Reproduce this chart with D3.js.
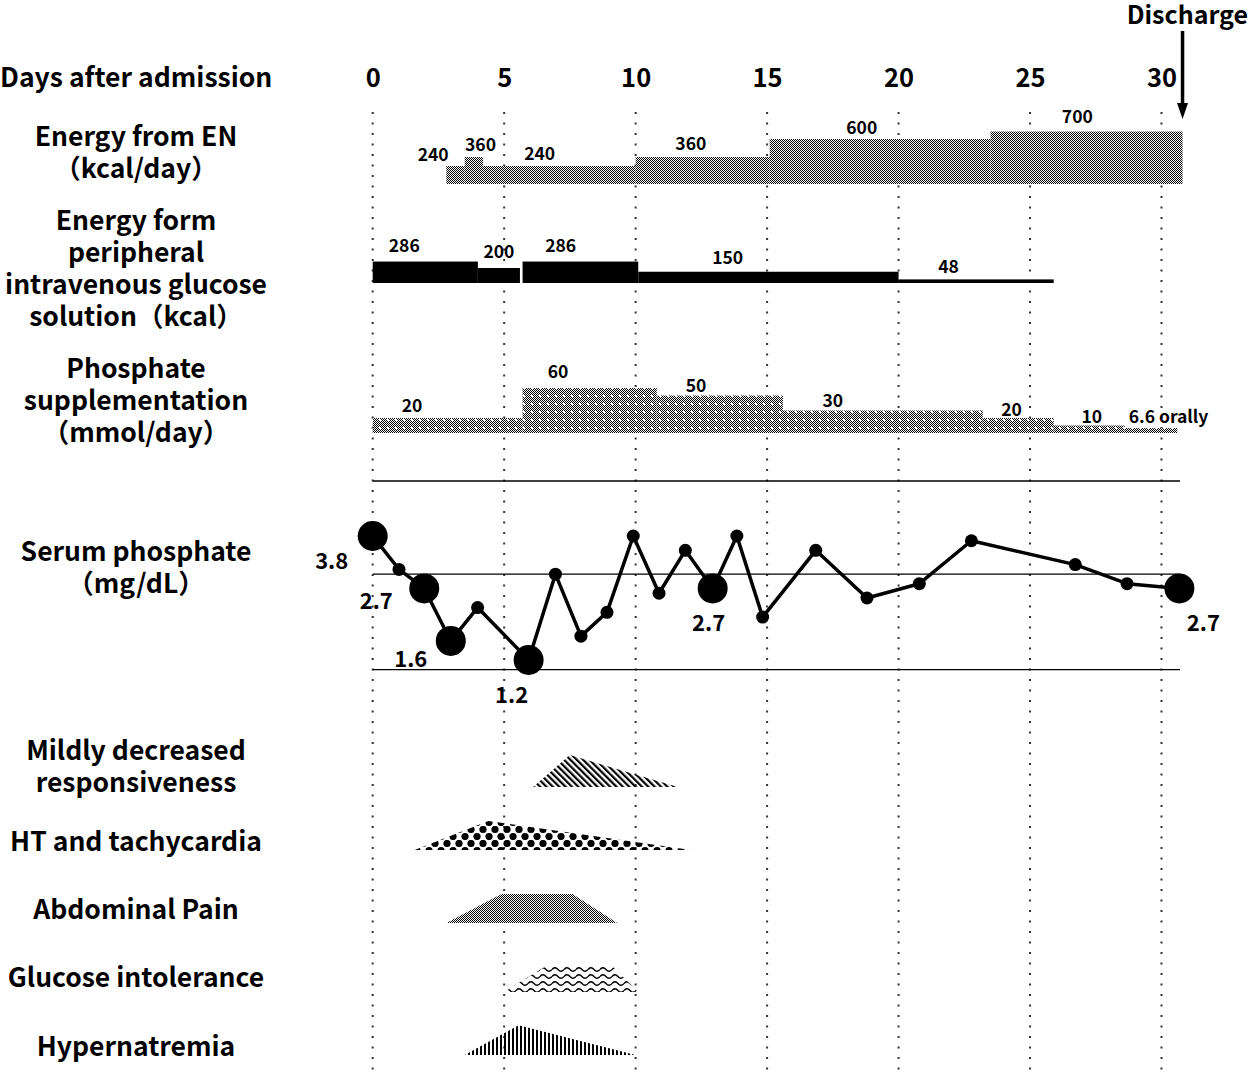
<!DOCTYPE html>
<html>
<head>
<meta charset="utf-8">
<script src="https://cdn.jsdelivr.net/npm/d3@7"></script>
<style>
  body { margin: 0; background: #fff; }
  svg { display: block; }
</style>
</head>
<body>
<div id="chart"></div>
<script>
// ---- data ----
const dayTicks = [0, 5, 10, 15, 20, 25, 30];
const dischargeDay = 30.8;

// energy from enteral nutrition (kcal/day)
const enStart = [2.8, 3.5, 4.2, 10, 15.1, 23.5];
const enEnd   = [3.5, 4.2, 10, 15.1, 23.5, 30.8];
const enValue = [240, 360, 240, 360, 600, 700];
const enLabelDay = [2.3, 4.1, 6.35, 12.1, 18.6, 26.8];

// peripheral intravenous glucose (kcal)
const gluStart = [0, 4, 5.7, 10.1, 20];
const gluEnd   = [4, 5.6, 10.1, 20, 25.9];
const gluValue = [286, 200, 286, 150, 48];
const gluLabelDay = [1.2, 4.8, 7.15, 13.5, 21.9];

// phosphate supplementation (mmol/day)
const phStart = [0, 5.7, 10.8, 15.6, 23.2, 25.9, 28.6];
const phEnd   = [5.7, 10.8, 15.6, 23.2, 25.9, 28.6, 30.6];
const phValue = [20, 60, 50, 30, 20, 10, 6.6];
const phLabel = ['20', '60', '50', '30', '20', '10', '6.6 orally'];
const phLabelDay = [1.5, 7.05, 12.3, 17.5, 24.3, 27.35, 28.75];

// serum phosphate (mg/dL)
const serumDay = [0, 1, 1.96, 2.97, 3.99, 5.93, 6.95, 7.92, 8.91, 9.91, 10.89,
  11.89, 12.93, 13.85, 14.83, 16.85, 18.8, 20.79, 22.77, 26.72, 28.69, 30.68];
const serumValue = [3.8, 3.1, 2.7, 1.6, 2.3, 1.2, 3.0, 1.7, 2.2, 3.8, 2.6,
  3.5, 2.7, 3.8, 2.1, 3.5, 2.5, 2.8, 3.7, 3.2, 2.8, 2.7];
const serumMarked = [0, 2, 3, 5, 12, 21];
const serumRefLines = [3.0, 1.0];

// symptoms: outline as [day, relative intensity]
const symptomNames = [
  ['Mildly decreased', 'responsiveness'],
  ['HT and tachycardia'],
  ['Abdominal Pain'],
  ['Glucose intolerance'],
  ['Hypernatremia']
];
const symptomShapes = [
  [[6.1, 0], [7.5, 1.1], [11.6, 0]],
  [[1.6, 0], [4.4, 1.0], [12.1, 0]],
  [[2.8, 0], [4.9, 1.0], [7.6, 1.0], [9.3, 0]],
  [[5.0, 0], [6.6, 0.9], [9.1, 0.9], [10.1, 0]],
  [[3.5, 0], [5.55, 1.03], [10.0, 0]]
];

// ---- layout ----
const W = 1250, H = 1078;
const FONT = '"Noto Sans CJK JP", "Noto Sans", sans-serif';
const labelX = 136;
const bigFont = 26.5;

const svg = d3.select('#chart')
  .append('svg')
  .attr('width', W)
  .attr('height', H)
  .attr('viewBox', `0 0 ${W} ${H}`);

const x = d3.scaleLinear().domain([0, 30]).range([372.7, 1161.5]);

// bar height scales (px)
const kcal = d3.scaleLinear().domain([0, 700]).range([0, 52.5]);
const mmol = d3.scaleLinear().domain([0, 60]).range([0, 45]);
const serumY = d3.scaleLinear().domain([1.2, 3.8]).range([660, 536]);
const symH = d3.scaleLinear().domain([0, 1]).range([0, 29]);

// ---- patterns ----
const defs = svg.append('defs');

const checker = defs.append('pattern')
  .attr('id', 'checker').attr('patternUnits', 'userSpaceOnUse')
  .attr('width', 2).attr('height', 2);
checker.append('rect').attr('width', 2).attr('height', 2).attr('fill', '#fff');
checker.append('rect').attr('x', 0).attr('y', 0).attr('width', 1).attr('height', 1).attr('fill', '#000');
checker.append('rect').attr('x', 1).attr('y', 1).attr('width', 1).attr('height', 1).attr('fill', '#000');

const dotted = defs.append('pattern')
  .attr('id', 'phos').attr('patternUnits', 'userSpaceOnUse')
  .attr('width', 8).attr('height', 8);
dotted.append('rect').attr('width', 8).attr('height', 8).attr('fill', 'url(#checker)');
dotted.append('rect').attr('x', 3).attr('y', 3).attr('width', 2).attr('height', 2).attr('fill', '#fff');

const diag = defs.append('pattern')
  .attr('id', 'diag').attr('patternUnits', 'userSpaceOnUse')
  .attr('width', 4.5).attr('height', 4.5)
  .attr('patternTransform', 'rotate(-45)');
diag.append('rect').attr('width', 2.2).attr('height', 4.5).attr('fill', '#000');

const balls = defs.append('pattern')
  .attr('id', 'balls').attr('patternUnits', 'userSpaceOnUse')
  .attr('width', 12).attr('height', 14);
[[3, 3.5], [9, 10.5], [-3, 10.5], [15, 3.5]].forEach(([cx, cy]) => {
  balls.append('circle').attr('cx', cx).attr('cy', cy).attr('r', 3.6).attr('fill', '#000');
});

const wave = defs.append('pattern')
  .attr('id', 'wave').attr('patternUnits', 'userSpaceOnUse')
  .attr('width', 12).attr('height', 7);
wave.append('path')
  .attr('d', 'M0,3.5 Q3,0 6,3.5 T12,3.5')
  .attr('fill', 'none').attr('stroke', '#000').attr('stroke-width', 1.4);

const vstripe = defs.append('pattern')
  .attr('id', 'vstripe').attr('patternUnits', 'userSpaceOnUse')
  .attr('width', 4).attr('height', 4);
vstripe.append('rect').attr('width', 2).attr('height', 4).attr('fill', '#000');

// ---- dotted day gridlines ----
svg.append('g').selectAll('line')
  .data(dayTicks)
  .join('line')
  .attr('x1', d => x(d)).attr('x2', d => x(d))
  .attr('y1', 112).attr('y2', H)
  .attr('stroke', '#333')
  .attr('stroke-width', 2)
  .attr('stroke-dasharray', '2,8.5');

// ---- day axis ----
const axis = svg.append('g')
  .attr('transform', 'translate(0,87)')
  .call(d3.axisTop(x).tickValues(dayTicks).tickSize(0).tickPadding(0));
axis.select('.domain').remove();
axis.selectAll('text')
  .attr('font-family', FONT)
  .attr('font-weight', 'bold')
  .attr('font-size', 25.5)
  .attr('fill', '#000');

// ---- left labels ----
function leftLabel(lines, cy, size = bigFont) {
  const lh = 32;
  const y0 = cy - (lines.length - 1) * lh / 2;
  svg.append('g').selectAll('text')
    .data(lines)
    .join('text')
    .attr('x', labelX)
    .attr('y', (d, i) => y0 + i * lh + 9)
    .attr('text-anchor', 'middle')
    .attr('font-family', FONT)
    .attr('font-weight', 'bold')
    .attr('font-size', size)
    .text(d => d);
}

svg.append('text')
  .attr('x', 0).attr('y', 87)
  .attr('font-family', FONT).attr('font-weight', 'bold').attr('font-size', bigFont)
  .text('Days after admission');

leftLabel(['Energy from EN', '（kcal/day）'], 153);
leftLabel(['Energy form', 'peripheral', 'intravenous glucose', 'solution（kcal）'], 269);
leftLabel(['Phosphate', 'supplementation', '（mmol/day）'], 401);
leftLabel(['Serum phosphate', '（mg/dL）'], 568);

// ---- step bars ----
function stepBars(starts, ends, values, base, hScale, fill) {
  svg.append('g').selectAll('rect')
    .data(values)
    .join('rect')
    .attr('x', (d, i) => x(starts[i]))
    .attr('width', (d, i) => x(ends[i]) - x(starts[i]))
    .attr('y', d => base - hScale(d))
    .attr('height', d => hScale(d))
    .attr('fill', fill);
}

function barLabels(labels, days, values, base, hScale, gap, anchor) {
  svg.append('g').selectAll('text')
    .data(labels)
    .join('text')
    .attr('x', (d, i) => x(days[i]))
    .attr('y', (d, i) => base - hScale(values[i]) - gap[i])
    .attr('text-anchor', (d, i) => anchor ? anchor[i] : 'middle')
    .attr('font-family', FONT)
    .attr('font-weight', 'bold')
    .attr('font-size', 17.5)
    .text(d => d);
}

// EN
const enBase = 184;
stepBars(enStart, enEnd, enValue, enBase, kcal, 'url(#checker)');
barLabels(enValue.map(String), enLabelDay, enValue, enBase, kcal, [5, 6, 6, 7, 5, 9]);

// glucose
const gluBase = 283;
stepBars(gluStart, gluEnd, gluValue, gluBase, kcal, '#000');
barLabels(gluValue.map(String), gluLabelDay, gluValue, gluBase, kcal, [10, 10, 10, 8, 6]);

// phosphate
const phBase = 433;
stepBars(phStart, phEnd, phValue, phBase, mmol, 'url(#phos)');
barLabels(phLabel, phLabelDay, phValue, phBase, mmol, [6, 10, 4, 4, 2, 3, 5],
  ['middle', 'middle', 'middle', 'middle', 'middle', 'middle', 'start']);

// separator
svg.append('line')
  .attr('x1', 373).attr('x2', 1180)
  .attr('y1', 481).attr('y2', 481)
  .attr('stroke', '#000').attr('stroke-width', 1.3);

// ---- serum phosphate ----
svg.append('g').selectAll('line')
  .data(serumRefLines)
  .join('line')
  .attr('x1', 373).attr('x2', 1180)
  .attr('y1', d => serumY(d)).attr('y2', d => serumY(d))
  .attr('stroke', '#000').attr('stroke-width', 1.3);

const serum = serumDay.map((d, i) => ({ day: d, v: serumValue[i], big: serumMarked.includes(i) }));

svg.append('path')
  .datum(serum)
  .attr('fill', 'none')
  .attr('stroke', '#000')
  .attr('stroke-width', 3.5)
  .attr('stroke-linejoin', 'round')
  .attr('d', d3.line().x(d => x(d.day)).y(d => serumY(d.v)));

svg.append('g').selectAll('circle')
  .data(serum)
  .join('circle')
  .attr('cx', d => x(d.day))
  .attr('cy', d => serumY(d.v))
  .attr('r', d => d.big ? 15 : 6.5)
  .attr('fill', '#000');

// label offsets for the marked points (px)
const serumLabelOffset = [[-41, 25], [-48, 13], [-40, 18], [-17, 35], [-4, 35], [24, 35]];
svg.append('g').selectAll('text')
  .data(serumMarked)
  .join('text')
  .attr('x', (d, i) => x(serumDay[d]) + serumLabelOffset[i][0])
  .attr('y', (d, i) => serumY(serumValue[d]) + serumLabelOffset[i][1] + 8)
  .attr('text-anchor', 'middle')
  .attr('font-family', FONT)
  .attr('font-weight', 'bold')
  .attr('font-size', 22)
  .text(d => serumValue[d].toFixed(1));

// ---- symptoms ----
const symBase = [787, 850, 923, 992, 1055];
const symLabelY = [767, 842, 910, 978, 1047];
const symFill = ['url(#diag)', 'url(#balls)', 'url(#checker)', 'url(#wave)', 'url(#vstripe)'];

symptomNames.forEach((lines, i) => leftLabel(lines, symLabelY[i]));

svg.append('g').selectAll('path')
  .data(symptomShapes)
  .join('path')
  .attr('fill', (d, i) => symFill[i])
  .attr('d', (d, i) => d3.line()
    .x(p => x(p[0]))
    .y(p => symBase[i] - symH(p[1]))(d) + 'Z');

// ---- discharge marker ----
const dx = x(dischargeDay);
svg.append('text')
  .attr('x', 1248).attr('y', 24)
  .attr('text-anchor', 'end')
  .attr('font-family', FONT).attr('font-weight', 'bold').attr('font-size', 25)
  .text('Discharge');
svg.append('line')
  .attr('x1', dx).attr('x2', dx)
  .attr('y1', 31).attr('y2', 106)
  .attr('stroke', '#000').attr('stroke-width', 3.5);
svg.append('path')
  .attr('d', `M${dx - 5.5},103 L${dx + 5.5},103 L${dx},119 Z`)
  .attr('fill', '#000');
</script>
</body>
</html>
